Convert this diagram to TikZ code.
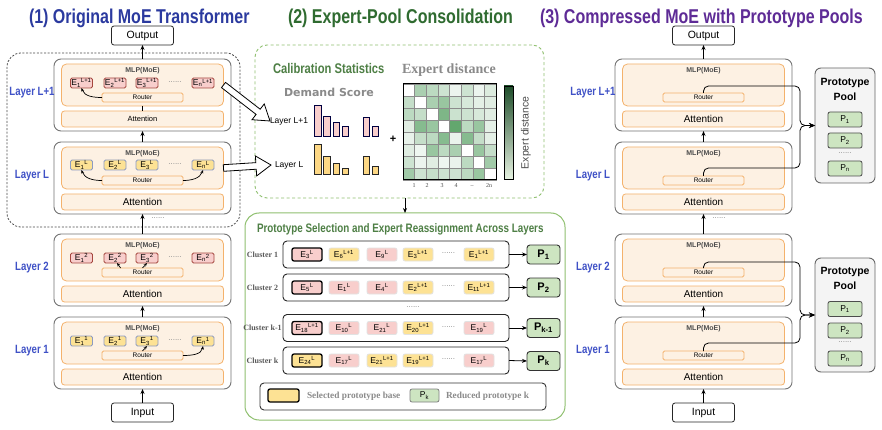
\documentclass[tikz,border=0pt]{standalone}
\usepackage{fontspec}
\usepackage{amsmath}
\setmainfont{Liberation Sans}
\newfontfamily\nar[FakeStretch=0.8]{Liberation Sans}
\newfontfamily\tms{Liberation Serif}
\newfontfamily\dvs{DejaVu Sans}
\usetikzlibrary{arrows.meta,calc}
\newcommand\fs[1]{\fontsize{#1}{#1}\selectfont}
\newcommand\Ex[2]{E\textsubscript{#1}\textsuperscript{#2}}
\newcommand\Pk[1]{P\textsubscript{#1}}
\definecolor{tblue}{HTML}{2B3A9F}
\definecolor{lblue}{HTML}{3F51C6}
\definecolor{tgreen}{HTML}{2F6B30}
\definecolor{tpurple}{HTML}{5E2B96}
\definecolor{sgreen}{HTML}{4E7F45}
\definecolor{orfill}{HTML}{FDF1E3}
\definecolor{ordraw}{HTML}{F4B26C}
\definecolor{pinkf}{HTML}{F8CECC}
\definecolor{pinkd}{HTML}{A5473F}
\definecolor{yelf}{HTML}{FDE294}
\definecolor{yeld}{HTML}{8C9BC2}
\definecolor{chipgray}{HTML}{E2E2E2}
\definecolor{pgreen}{HTML}{CDE5C1}
\definecolor{gline}{HTML}{8FC06F}
\definecolor{hgreen}{HTML}{2F8A3E}
\definecolor{hdark}{HTML}{1F4D2A}
\definecolor{hlight}{HTML}{E6F2E1}
\definecolor{poolf}{HTML}{F4F4F4}
\definecolor{txtgray}{HTML}{8A8A8A}
\tikzset{
  every node/.style={inner sep=0pt, outer sep=0pt},
  ttl/.style={font=\nar\bfseries\fs{20}, anchor=base west},
  io/.style={draw=black!85, fill=white, rounded corners=2.5pt, line width=0.8pt, minimum width=62, minimum height=19, font=\fs{10.5}},
  layer/.style={draw=black!55, fill=white, rounded corners=7pt, line width=0.9pt, minimum width=177, minimum height=72},
  mlp/.style={draw=ordraw, fill=orfill, rounded corners=5pt, line width=0.8pt, minimum width=162, minimum height=42},
  attn/.style={draw=ordraw, fill=orfill, rounded corners=3pt, line width=0.8pt, minimum width=162, minimum height=16},
  router/.style={draw=ordraw, fill=orfill, rounded corners=1.5pt, line width=0.8pt, minimum width=81, minimum height=9, font=\fs{6.5}},
  mlplbl/.style={font=\bfseries\fs{7}, text=black!70},
  expP/.style={draw=pinkd, fill=pinkf, rounded corners=1.5pt, line width=0.8pt, minimum width=22, minimum height=10, font=\fs{8.5}},
  expY/.style={draw=yeld, fill=yelf, rounded corners=1.5pt, line width=0.8pt, minimum width=22, minimum height=10, font=\fs{8.5}},
  laylbl/.style={font=\nar\bfseries\fs{12}, text=lblue},
  dotlbl/.style={font=\fs{8}, text=black!45},
  arr/.style={-{Stealth[length=5pt,width=4pt]}, line width=0.8pt},
  sarr/.style={-{Stealth[length=3.5pt,width=3pt]}, line width=0.7pt},
  conn/.style={-{Stealth[length=6pt,width=5pt]}, line width=0.8pt, rounded corners=5pt},
  chip/.style={draw=chipgray, rounded corners=2pt, line width=0.8pt, minimum width=30, minimum height=13, font=\fs{8.5}},
  chipP/.style={chip, fill=pinkf},
  chipY/.style={chip, fill=yelf},
  sel/.style={draw=black, line width=1.3pt},
  rowbox/.style={draw=black!85, rounded corners=4pt, line width=0.9pt, minimum width=226, minimum height=27},
  pbig/.style={draw=black!80, fill=pgreen, rounded corners=3pt, line width=0.9pt, minimum width=33, minimum height=19, font=\bfseries\fs{11}},
  clbl/.style={font=\tms\bfseries\fs{8}, text=black!65},
  pool/.style={draw=black!60, fill=poolf, rounded corners=6pt, line width=0.9pt, minimum width=60},
  psm/.style={draw=black!70, fill=pgreen, rounded corners=2pt, line width=0.8pt, minimum width=34, minimum height=15, font=\fs{8.5}},
  pooltxt/.style={font=\bfseries\fs{10.5}},
  barP/.style={draw=black!75!blue, fill=pinkf, line width=0.7pt},
  barY/.style={draw=black!85, fill=yelf!90!orange, line width=0.7pt},
  axl/.style={font=\tms\fs{6}, text=black!70}
}
\newcommand\mylayer[5]{%
  \node[layer] (#1) at (#2,#3+36) {};
  \node[mlp] (#1m) at (#2,#3+26) {};
  \node[mlplbl] (#1t) at (#2,#3+12) {MLP(MoE)};
  \node[router] (#1r) at (#2,#3+38.5) {Router};
  \node[attn, font=\fs{#4}] (#1a) at (#2,#3+60) {Attention};
  \node[laylbl] (#1l) at (#2-110.5,#3+34) {#5};
}
\newcommand\experts[4]{%
  \node[#3] (#1e1) at (81.5,#2) {\Ex{1}{#4}};
  \node[#3] (#1e2) at (115,#2) {\Ex{2}{#4}};
  \node[#3] (#1e3) at (147,#2) {\Ex{3}{#4}};
  \node[dotlbl] (#1ed) at (175,#2-1) {......};
  \node[#3] (#1en) at (203,#2) {\Ex{n}{#4}};
}
\newcommand\hollowarrow[2]{%
  \draw[line width=0.8pt, fill=white, line join=miter]
    ($(#1)!3.3pt!90:(#2)$) -- ($(#2)!15pt!(#1)!3.3pt!-90:(#1)$) -- ($(#2)!15pt!(#1)!10pt!-90:(#1)$)
    -- (#2) -- ($(#2)!15pt!(#1)!10pt!90:(#1)$) -- ($(#2)!15pt!(#1)!3.3pt!90:(#1)$)
    -- ($(#1)!3.3pt!-90:(#2)$) -- cycle;}
\begin{document}
\begin{tikzpicture}[x=1pt,y=-1pt]
\useasboundingbox[fill=white] (0,0) rectangle (882,430);

% ---------- titles
\node[ttl, text=tblue] (t1) at (29,24) {(1) Original MoE Transformer};
\node[ttl, text=tgreen] (t2) at (288,24) {(2) Expert-Pool Consolidation};
\node[ttl, text=tpurple] (t3) at (540,24) {(3) Compressed MoE with Prototype Pools};

% ---------- left panel
\node[draw=black!70, dashed, dash pattern=on 2pt off 1.6pt, rounded corners=14pt, line width=0.8pt, minimum width=233, minimum height=174] (dbox) at (123.5,140) {};
\node[io] (outL) at (142.5,35.5) {Output};
\node[io] (inL) at (142.5,412.5) {Input};
\mylayer{L4}{142.5}{59}{7.5}{Layer L+1}
\mylayer{L3}{142.5}{142}{10}{Layer L}
\mylayer{L2}{142.5}{234}{10}{Layer 2}
\mylayer{L1}{142.5}{317}{10}{Layer 1}
\experts{L4}{83}{expP}{L+1}
\experts{L3}{165}{expY}{L}
\experts{L2}{258}{expP}{2}
\experts{L1}{341}{expY}{1}
\draw[line width=0.8pt] (L4m.south) -- (L4a.north);
\draw[arr] (L4.north) -- (outL.south);
\draw[arr] (L3.north) -- (L4.south);
\draw[arr] (L2.north) -- (L3.south);
\draw[arr] (L1.north) -- (L2.south);
\draw[arr] (inL.north) -- (L1.south);
\node[dotlbl] (gdL) at (158,218) {......};
\draw[sarr] (L4r.west) to[out=180,in=-70] (L4e1.south);
\draw[sarr] (L3r.west) to[out=180,in=-70] (L3e1.south);
\draw[sarr] (L3r.east) to[out=0,in=-110] (L3en.south);
\draw[sarr] ($(L2r.north west)!0.23!(L2r.north east)$) -- ($(L2e2.south)+(2,0)$);
\draw[sarr] (L2r.north) -- (L2e3.south);
\draw[sarr] (L1r.north) -- (L1e3.south);
\draw[sarr] (L1r.east) to[out=0,in=-100] (L1en.south);

% ---------- middle top
\node[draw=gline, dashed, dash pattern=on 3pt off 2.5pt, rounded corners=12pt, line width=0.9pt, minimum width=289, minimum height=153] (calib) at (399.5,121.5) {};
\node[font=\nar\bfseries\fs{14}, text=sgreen, anchor=base west] (calt) at (273,74) {Calibration Statistics};
\node[font=\tms\bfseries\fs{14}, text=txtgray, anchor=base west] (edt) at (402,74) {Expert distance};
\node[font=\dvs\bfseries\fs{11}, text=txtgray, anchor=base west] (dst) at (284,97) {Demand Score};
\node[font=\fs{8.5}, anchor=west] (mL4) at (270,121) {Layer L+1};
\node[font=\fs{8.5}, anchor=west] (mL3) at (275,165) {Layer L};
\coordinate (tip3) at ($(mL3.west)+(-4,0)$);
\hollowarrow{L4m.east}{mL4.west}
\hollowarrow{L3m.east}{tip3}
% bars
\draw[barP] (314,136) rectangle (321,105);
\draw[barP] (323,136) rectangle (330,116);
\draw[barP] (333,136) rectangle (339,122);
\draw[barP] (342,136) rectangle (348,126);
\draw[barP] (363,136) rectangle (369,117);
\draw[barP] (372,136) rectangle (378,126);
\draw[barY] (314,174) rectangle (321,144);
\draw[barY] (323,174) rectangle (330,156);
\draw[barY] (333,174) rectangle (339,163);
\draw[barY] (342,174) rectangle (348,168);
\draw[barY] (363,174) rectangle (369,156);
\draw[barY] (372,174) rectangle (378,166);
\node[font=\bfseries\fs{11}] (plus) at (393,139) {+};
% heatmap
\foreach \row [count=\r] in {{0,40,30,20,3,20,3,12},{25,0,40,50,20,15,8,10},{30,25,0,65,22,20,15,10},{10,60,50,0,80,30,50,8},{5,25,30,60,4,60,25,8},{10,2,50,30,40,0,50,25},{20,3,10,2,4,30,0,45},{45,20,25,20,20,30,50,0}}{
  \foreach \v [count=\c] in \row {
    \pgfmathtruncatemacro\vv{\v==0 ? 0 : 0.85*\v+7}
    \filldraw[fill=hgreen!\vv!white, draw=black!45, line width=0.5pt] ({403+(\c-1)*11.625},{84+(\r-1)*12}) rectangle ++(11.625,12);
  }
}
\draw[line width=1pt] (403,84) rectangle (496,180);
\shade[top color=hdark, bottom color=hlight] (504,86) rectangle (513,179);
\draw[line width=0.8pt] (504,86) rectangle (513,179);
\node[font=\fs{10.5}, text=black!70, rotate=90] (edl) at (526,133) {Expert distance};
\node[axl] at (414,186) {1};
\node[axl] at (427,186) {2};
\node[axl] at (442,186) {3};
\node[axl] at (456,186) {4};
\node[axl] at (472,186) {\_};
\node[axl] at (489,186) {2n};

% ---------- middle bottom
\node[draw=gline, rounded corners=14pt, line width=1pt, minimum width=320, minimum height=207] (psel) at (405,316.5) {};
\draw[arr] (calib.south -| psel.north) -- (psel.north);
\node[font=\nar\bfseries\fs{12.3}, text=sgreen, anchor=base west] (pst) at (257,232) {Prototype Selection and Expert Reassignment Across Layers};
\node[rowbox] (r1) at (396,254.5) {};
\node[rowbox] (r2) at (396,287.5) {};
\node[rowbox] (r3) at (396,328) {};
\node[rowbox] (r4) at (396,360.5) {};
\node[clbl] (cl1) at (262.5,254.5) {Cluster 1};
\node[clbl] (cl2) at (262.5,287.5) {Cluster 2};
\node[clbl] (cl3) at (262.5,328) {Cluster k-1};
\node[clbl] (cl4) at (262.5,360.5) {Cluster k};
\node[dotlbl] (rdots) at (413,307) {......};
% row 1
\node[chipP, sel] (c1a) at (307,254.5) {\Ex{3}{L}};
\node[chipY] (c1b) at (344,254.5) {\Ex{6}{L+1}};
\node[chipP] (c1c) at (382,254.5) {\Ex{9}{L}};
\node[chipY] (c1d) at (418,254.5) {\Ex{3}{L+1}};
\node[dotlbl] (c1x) at (448.5,253.5) {......};
\node[chipY] (c1e) at (479,254.5) {\Ex{1}{L+1}};
% row 2
\node[chipP, sel] (c2a) at (307,287.5) {\Ex{5}{L}};
\node[chipP] (c2b) at (344,287.5) {\Ex{1}{L}};
\node[chipP] (c2c) at (382,287.5) {\Ex{4}{L}};
\node[chipY] (c2d) at (418,287.5) {\Ex{2}{L+1}};
\node[dotlbl] (c2x) at (448.5,286.5) {......};
\node[chipY] (c2e) at (479,287.5) {\Ex{11}{L+1}};
% row k-1
\node[chipP, sel] (c3a) at (307,328) {\Ex{18}{L+1}};
\node[chipP] (c3b) at (344,328) {\Ex{10}{L}};
\node[chipP] (c3c) at (382,328) {\Ex{21}{L}};
\node[chipY] (c3d) at (418,328) {\Ex{20}{L+1}};
\node[dotlbl] (c3x) at (448.5,327) {......};
\node[chipP] (c3e) at (479,328) {\Ex{19}{L}};
% row k
\node[chipY, sel] (c4a) at (307,360.5) {\Ex{24}{L}};
\node[chipP] (c4b) at (344,360.5) {\Ex{17}{L}};
\node[chipY] (c4c) at (382,360.5) {\Ex{21}{L+1}};
\node[chipY] (c4d) at (418,360.5) {\Ex{19}{L+1}};
\node[dotlbl] (c4x) at (448.5,359.5) {......};
\node[chipP] (c4e) at (479,360.5) {\Ex{17}{L}};
% prototypes
\node[pbig] (p1) at (543.5,254.5) {\Pk{1}};
\node[pbig] (p2) at (543.5,287.5) {\Pk{2}};
\node[pbig] (p3) at (543.5,328) {\Pk{k-1}};
\node[pbig] (p4) at (543.5,361) {\Pk{k}};
\draw[arr] (r1.east) -- (p1.west);
\draw[arr] (r2.east) -- (p2.west);
\draw[arr] (r3.east) -- (p3.west);
\draw[arr] (r4.east) -- (p4.west);
% legend
\node[draw=black!80, rounded corners=4pt, line width=0.9pt, minimum width=286, minimum height=27] (leg) at (403,396.5) {};
\node[chipY, sel, minimum width=31] (lsw1) at (283.5,395.5) {};
\node[font=\tms\bfseries\fs{9.3}, text=txtgray, anchor=west] (lt1) at (307,396) {Selected prototype base};
\node[draw=black!50, fill=pgreen, rounded corners=2pt, line width=0.8pt, minimum width=29, minimum height=13, font=\fs{8.5}] (lsw2) at (424.5,395.5) {\Pk{k}};
\node[font=\tms\bfseries\fs{9.3}, text=txtgray, anchor=west] (lt2) at (446,396) {Reduced prototype k};

% ---------- right panel
\node[io] (outR) at (703.5,35.5) {Output};
\node[io] (inR) at (703.5,412.5) {Input};
\mylayer{R4}{703.5}{59}{10}{Layer L+1}
\mylayer{R3}{703.5}{142}{10}{Layer L}
\mylayer{R2}{703.5}{234}{10}{Layer 2}
\mylayer{R1}{703.5}{317}{10}{Layer 1}
\draw[arr] (R4.north) -- (outR.south);
\draw[arr] (R3.north) -- (R4.south);
\draw[arr] (R2.north) -- (R3.south);
\draw[arr] (R1.north) -- (R2.south);
\draw[arr] (inR.north) -- (R1.south);
\node[dotlbl] (gdR) at (719,218) {......};
% pools
\node[pool, minimum height=115] (pool1) at (845,125.5) {};
\node[pooltxt] (pl1a) at (845,83) {Prototype};
\node[pooltxt] (pl1b) at (845,96.5) {Pool};
\node[psm] (q11) at (845,119.5) {\Pk{1}};
\node[psm] (q12) at (845,140.5) {\Pk{2}};
\node[dotlbl] (q1d) at (845,153) {......};
\node[psm] (q1n) at (845,168.5) {\Pk{n}};
\node[pool, minimum height=114] (pool2) at (845,315) {};
\node[pooltxt] (pl2a) at (845,272) {Prototype};
\node[pooltxt] (pl2b) at (845,285.5) {Pool};
\node[psm] (q21) at (845,309) {\Pk{1}};
\node[psm] (q22) at (845,330.5) {\Pk{2}};
\node[dotlbl] (q2d) at (845,342.5) {......};
\node[psm] (q2n) at (845,358.5) {\Pk{n}};
\coordinate (j1) at ($(pool1.west)+(-15,0)$);
\coordinate (j2) at ($(pool2.west)+(-15,0)$);
\draw[conn] (R4r.north) -- ++(0,-7) -| (j1) -- (pool1.west);
\draw[conn] (R3r.north) -- ++(0,-8) -| (j1) -- (pool1.west);
\draw[conn] (R2r.north) -- ++(0,-6) -| (j2) -- (pool2.west);
\draw[conn] (R1r.north) -- ++(0,-8) -| (j2) -- (pool2.west);
\end{tikzpicture}
\end{document}
